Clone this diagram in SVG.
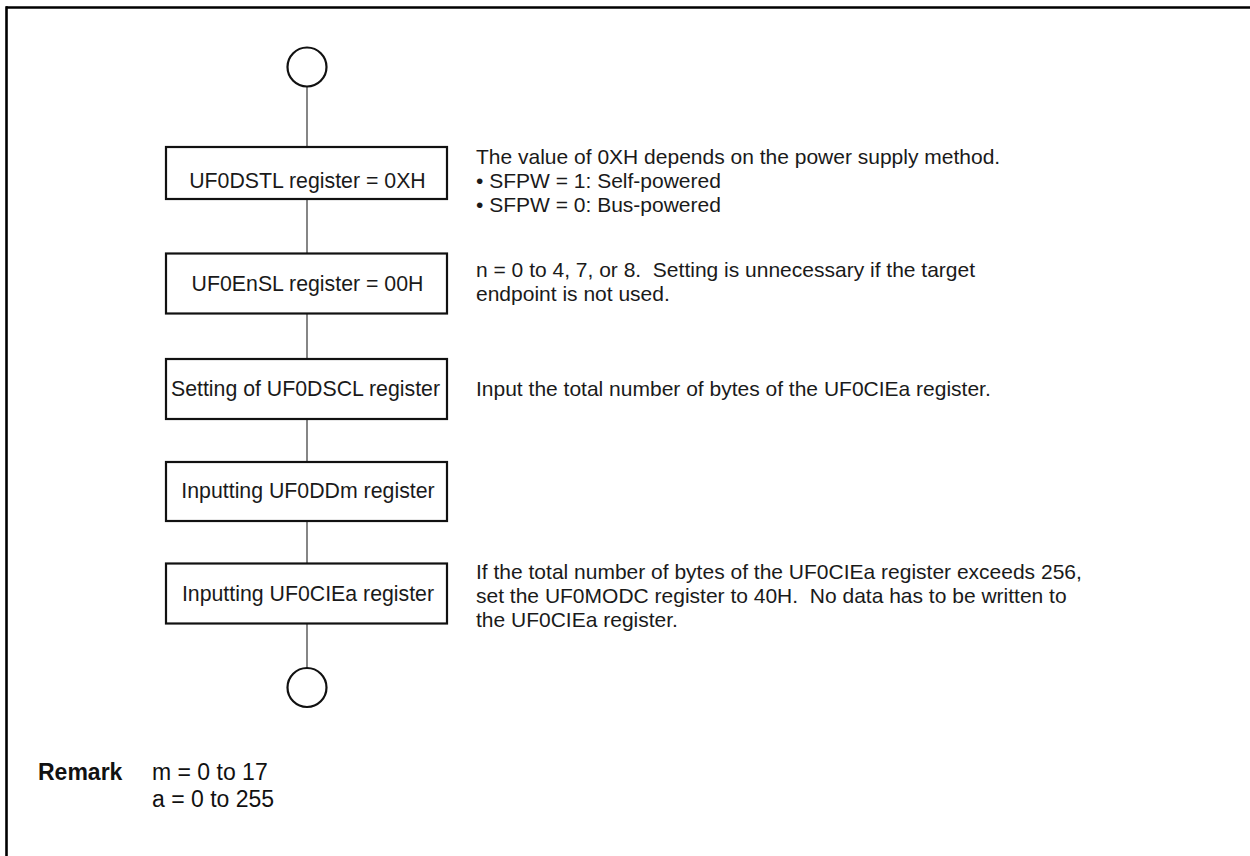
<svg xmlns="http://www.w3.org/2000/svg" width="1250" height="856" viewBox="0 0 1250 856">
<style>
.box{fill:#fff;stroke:#111;stroke-width:2.2}
.term{fill:#fff;stroke:#111;stroke-width:2.2}
.conn{stroke:#444;stroke-width:1.3;fill:none}
.frame{stroke:#000;stroke-width:2.6;fill:none}
.bt{font-family:"Liberation Sans",Arial,sans-serif;font-size:21.3px;fill:#1a1a1a;text-anchor:middle}
.nt{font-family:"Liberation Sans",Arial,sans-serif;font-size:21px;fill:#1a1a1a}
.rm{font-family:"Liberation Sans",Arial,sans-serif;font-size:23px;fill:#111}
</style>
<rect width="1250" height="856" fill="#fff"/>
<g id="frame">
<line class="frame" x1="6" y1="7.5" x2="1250" y2="7.5"/>
<line class="frame" x1="6.5" y1="6.2" x2="6.5" y2="856"/>
</g>
<g id="connectors">
<line class="conn" x1="307" y1="86.5" x2="307" y2="147"/>
<line class="conn" x1="307" y1="199" x2="307" y2="253.5"/>
<line class="conn" x1="307" y1="313.5" x2="307" y2="359"/>
<line class="conn" x1="307" y1="419" x2="307" y2="462"/>
<line class="conn" x1="307" y1="521" x2="307" y2="563.5"/>
<line class="conn" x1="307" y1="623.5" x2="307" y2="668"/>
</g>
<g id="start"><circle class="term" cx="307" cy="67" r="19.5"/></g>
<g id="n1">
<rect class="box" x="166" y="147" width="281" height="52"/>
<text class="bt" x="307.5" y="188">UF0DSTL register = 0XH</text>
</g>
<g id="n2">
<rect class="box" x="166" y="253.5" width="281" height="60"/>
<text class="bt" x="307.5" y="290.7">UF0EnSL register = 00H</text>
</g>
<g id="n3">
<rect class="box" x="166" y="359" width="281" height="60"/>
<text class="bt" x="305.5" y="396">Setting of UF0DSCL register</text>
</g>
<g id="n4">
<rect class="box" x="166" y="462" width="281" height="59"/>
<text class="bt" x="308" y="498.3">Inputting UF0DDm register</text>
</g>
<g id="n5">
<rect class="box" x="166" y="563.5" width="281" height="60"/>
<text class="bt" x="308" y="600.7">Inputting UF0CIEa register</text>
</g>
<g id="end"><circle class="term" cx="307" cy="687.5" r="19.5"/></g>
<g id="note1">
<text class="nt" x="476" y="163.5">The value of 0XH depends on the power supply method.</text>
<text class="nt" x="476" y="187.5">• SFPW = 1: Self-powered</text>
<text class="nt" x="476" y="211.5">• SFPW = 0: Bus-powered</text>
</g>
<g id="note2">
<text class="nt" x="476" y="276.5" xml:space="preserve">n = 0 to 4, 7, or 8.  Setting is unnecessary if the target</text>
<text class="nt" x="476" y="300.5">endpoint is not used.</text>
</g>
<g id="note3">
<text class="nt" x="476" y="396">Input the total number of bytes of the UF0CIEa register.</text>
</g>
<g id="note5">
<text class="nt" x="476" y="579">If the total number of bytes of the UF0CIEa register exceeds 256,</text>
<text class="nt" x="476" y="603" xml:space="preserve">set the UF0MODC register to 40H.  No data has to be written to</text>
<text class="nt" x="476" y="627">the UF0CIEa register.</text>
</g>
<g id="remark">
<text class="rm" x="38" y="779.5" font-weight="bold" font-size="23.5">Remark</text>
<text class="rm" x="152" y="779.5">m = 0 to 17</text>
<text class="rm" x="152" y="807">a = 0 to 255</text>
</g>
</svg>
